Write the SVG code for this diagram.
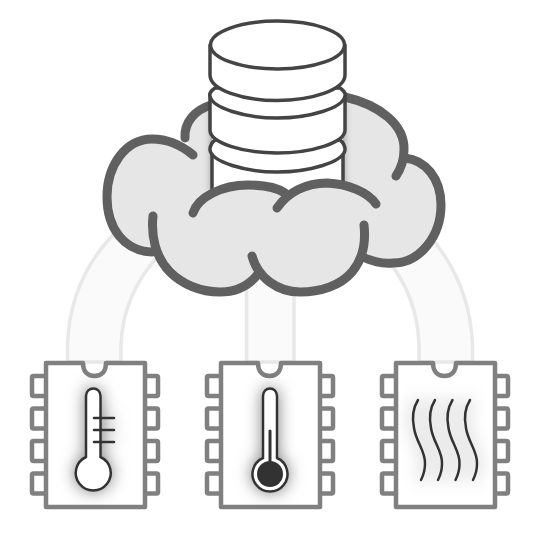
<svg xmlns="http://www.w3.org/2000/svg" width="540" height="540" viewBox="0 0 540 540">
<defs>
<style>
.band{fill:#fafafa;stroke:#e8e8e8;stroke-width:3.5}
.chip{fill:#fff;stroke:#808080;stroke-width:4.500;stroke-linejoin:round}
.ic{fill:none;stroke:#333;stroke-width:2.500;stroke-linecap:round}
.icw{fill:#fff;stroke:#333;stroke-width:2.500}
.cf{fill:#e6e6e6;stroke:none}
.cs{fill:none;stroke:#606060;stroke-width:9;stroke-linecap:round;stroke-linejoin:round}
.db{fill:#fff;stroke:#444;stroke-width:3.500;stroke-linejoin:round}
</style>
<filter id="glow" x="-80%" y="-50%" width="260%" height="200%"><feDropShadow dx="0" dy="0" stdDeviation="8" flood-color="#000" flood-opacity="0.5"/></filter>
<filter id="dbs" x="-15%" y="-15%" width="130%" height="130%"><feDropShadow dx="0" dy="0" stdDeviation="4" flood-color="#000" flood-opacity="0.45"/></filter>
<g id="chipbody">
<rect class="chip" x="32" y="376" width="26" height="20" rx="1.500"/>
<rect class="chip" x="32" y="408.500" width="26" height="20" rx="1.500"/>
<rect class="chip" x="32" y="441" width="26" height="20" rx="1.500"/>
<rect class="chip" x="32" y="473.500" width="26" height="20" rx="1.500"/>
<rect class="chip" x="132" y="376" width="26" height="20" rx="1.500"/>
<rect class="chip" x="132" y="408.500" width="26" height="20" rx="1.500"/>
<rect class="chip" x="132" y="441" width="26" height="20" rx="1.500"/>
<rect class="chip" x="132" y="473.500" width="26" height="20" rx="1.500"/>
<path class="chip" d="M46 363H83C83 371 87 376 94.500 376C102 376 106 371 106 363H145V507H46Z"/>
</g>
</defs>
<rect width="540" height="540" fill="#fff"/>
<g id="connectors">
<path class="band" d="M67.500 362V345C69 300 85 262 118 230L160 254C134 282 122 312 121 345V362Z"/>
<path class="band" d="M246.500 362V270H294V362Z"/>
<path class="band" d="M472.500 362V345C471 305 458 268 428 234L386 258C408 284 418 314 419 345V362Z"/>
</g>
<g id="cloud-back">
<path class="cf" d="M193 155C180 144 166 139 152 139C126 139 107 165 107 197C107 228 124 251 152 252L365 258C374 262 384 264 393 263C420 263 441 236 441 205C441 178 425 160 405 158C407 130 380 106 340 96L211 105C195 110 184 122 185 138Z"/>
<path class="cs" d="M193 155C180 144 166 139 152 139C126 139 107 165 107 197C107 228 124 251 152 252"/>
<path class="cs" d="M211 105C195 110 184 122 185 138"/>
<path class="cs" d="M345 97C380 105 405 125 404 150C404 160 400 170 396 176"/>
<path class="cs" d="M405 158C425 160 441 178 441 205C441 236 420 263 393 263C384 264 374 262 365 258"/>
</g>
<g id="database">
<rect x="212" y="100" width="131" height="92" fill="#fff" filter="url(#dbs)"/>
<path class="db" d="M212 145V192H343V145" fill="#fff"/>
<path class="db" d="M215 140C211 143 210 147 210 150C212 162 245 172 277 172C310 172 343 162 345 150C345 147 344 143 340 140Z"/>
<path class="db" d="M210 95V130C210 143 243 153 277 153C311 153 345 143 345 130V95Z"/>
<path class="db" d="M215 88C211 91 209 93 210 96C212 108 245 118 277 118C310 118 343 108 345 96C346 93 344 91 340 88Z"/>
<path class="db" d="M210 45V75C210 90 243 100.500 277 100.500C311 100.500 345 90 345 75V45Z"/>
<ellipse class="db" cx="277.500" cy="45" rx="67" ry="24"/>
</g>
<g id="cloud-front">
<path class="cf" d="M193 213C198 197 222 185 248 185C262 185 276 187 285 193C295 187 310 183 327 183C348 184 368 192 376 204L364 225C365 245 362 260 352 272C340 286 320 292 300 292C282 292 266 286 258 274C248 287 235 292 220 292C200 292 182 284 170 272C155 257 151 235 153 216Z"/>
<path class="cs" d="M193 213C198 197 222 185 248 185C262 185 276 187 285 193"/>
<path class="cs" d="M277 208C288 192 306 183 327 183C348 184 368 192 376 204"/>
<path class="cs" d="M153 216C151 235 155 257 170 272C182 284 200 292 220 292C235 292 248 287 258 274"/>
<path class="cs" d="M252 256C258 278 278 292 300 292C320 292 340 286 352 272C362 260 366 243 364 225"/>
</g>
<g id="chip-1">
<use href="#chipbody"/>
<g filter="url(#glow)">
<path class="icw" d="M86 457V396C86 386 100.500 386 100.500 396V457A17.500 17.500 0 1 1 86 457Z"/>
<path class="ic" d="M94 418H114M94 430H114M94 442H114"/>
</g>
</g>
<g id="chip-2" transform="translate(175 0)">
<use href="#chipbody"/>
<g filter="url(#glow)">
<path class="icw" d="M88 458V396C88 386 102 386 102 396V458A17.500 17.500 0 1 1 88 458Z"/>
<circle cx="95" cy="474" r="13" fill="#333"/>
<path class="ic" style="stroke-width:3" d="M95 431V465"/>
</g>
</g>
<g id="chip-3" transform="translate(350 0)">
<use href="#chipbody"/>
<g filter="url(#glow)">
<path class="ic" d="M68 400C63 408 62 418 64 428C66 442 76 452 75 464C75 470 73 476 71 480"/>
<path class="ic" d="M85 400C80 408 79 418 81 428C83 442 93 452 92 464C92 470 90 476 88 480"/>
<path class="ic" d="M102.500 400C97.500 408 96.500 418 98.500 428C100.500 442 110.500 452 109.500 464C109.500 470 107.500 476 105.500 480"/>
<path class="ic" d="M120 400C115 408 114 418 116 428C118 442 128 452 127 464C127 470 125 476 123 480"/>
</g>
</g>
</svg>
